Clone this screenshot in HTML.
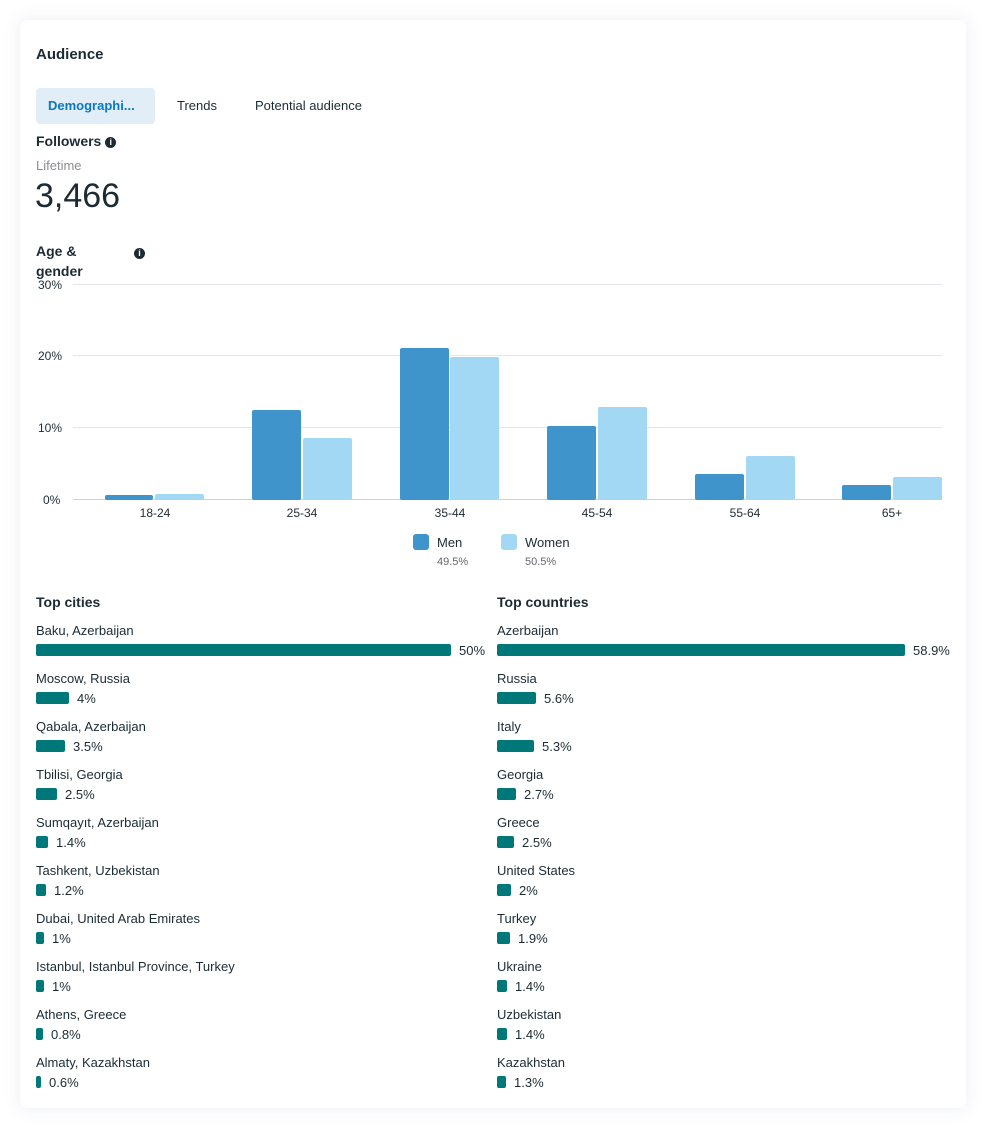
<!DOCTYPE html>
<html><head><meta charset="utf-8"><style>
body{margin:0;width:1004px;height:1147px;background:#fff;font-family:"Liberation Sans",sans-serif;color:#1c2b33;position:relative;overflow:hidden}
.card{position:absolute;left:20px;top:20px;width:946px;height:1088px;background:#fff;border-radius:8px;box-shadow:0 0 14px 4px rgba(120,130,180,0.09)}
.a{position:absolute;white-space:nowrap}
.t{font-size:13px}
.b{position:absolute;height:12px;background:#00787a;border-radius:2px}
.i{display:inline-block;width:11px;height:11px;border-radius:50%;background:#1c2b33;color:#fff;font-size:9px;font-weight:bold;text-align:center;line-height:11px;vertical-align:1px}
</style></head><body>
<div class="card"></div>
<div class="a" style="left:36px;top:46px;font-size:15px;font-weight:bold">Audience</div>
<div class="a" style="left:36px;top:88px;width:119px;height:36px;background:#e1edf7;border-radius:4px"></div>
<div class="a" style="left:48px;top:98px;font-size:13px;font-weight:bold;color:#0a78be">Demographi...</div>
<div class="a t" style="left:177px;top:98px">Trends</div>
<div class="a t" style="left:255px;top:98px">Potential audience</div>
<div class="a" style="left:36px;top:133px;font-size:14px;font-weight:bold">Followers <span class="i">i</span></div>
<div class="a t" style="left:36px;top:158px;color:#8a8d91">Lifetime</div>
<div class="a" style="left:35px;top:177px;font-size:34px">3,466</div>
<div class="a" style="left:36px;top:241px;font-size:14px;font-weight:bold;line-height:20px">Age &amp;<br>gender</div>
<div class="a" style="left:134px;top:244px"><span class="i">i</span></div>
<svg class="a" style="left:0;top:0" width="1004" height="580">
<g stroke="#e4e6eb" stroke-width="1">
<line x1="73" y1="284.5" x2="942" y2="284.5"/><line x1="73" y1="355.5" x2="942" y2="355.5"/><line x1="73" y1="427.5" x2="942" y2="427.5"/><line x1="73" y1="499.5" x2="942" y2="499.5" stroke="#ccd0d5"/>
</g>
<g font-size="12" fill="#1c2b33" font-family="Liberation Sans">
<text x="38" y="289">30%</text><text x="38" y="360">20%</text><text x="38" y="432">10%</text><text x="43" y="504">0%</text>
<g text-anchor="middle" font-size="12"><text x="155" y="517">18-24</text><text x="302" y="517">25-34</text><text x="450" y="517">35-44</text><text x="597" y="517">45-54</text><text x="745" y="517">55-64</text><text x="892" y="517">65+</text></g>
</g>
<g fill="#3f94cc">
<rect x="105" y="495" width="48" height="5" rx="2"/>
<rect x="252" y="410" width="49" height="90" rx="2"/>
<rect x="400" y="348" width="49" height="152" rx="2"/>
<rect x="547" y="426" width="49" height="74" rx="2"/>
<rect x="695" y="474" width="49" height="26" rx="2"/>
<rect x="842" y="485" width="49" height="15" rx="2"/>
</g>
<g fill="#a3d8f5">
<rect x="155" y="494" width="49" height="6" rx="2"/>
<rect x="303" y="438" width="49" height="62" rx="2"/>
<rect x="450" y="357" width="49" height="143" rx="2"/>
<rect x="598" y="407" width="49" height="93" rx="2"/>
<rect x="746" y="456" width="49" height="44" rx="2"/>
<rect x="893" y="477" width="49" height="23" rx="2"/>
</g>
<rect x="413" y="534" width="16" height="16" rx="3" fill="#3f94cc"/>
<rect x="501" y="534" width="16" height="16" rx="3" fill="#a3d8f5"/>
<g font-family="Liberation Sans"><text x="437" y="547" font-size="13" fill="#1c2b33">Men</text><text x="437" y="565" font-size="11" fill="#65676b">49.5%</text>
<text x="525" y="547" font-size="13" fill="#1c2b33">Women</text><text x="525" y="565" font-size="11" fill="#65676b">50.5%</text></g>
</svg>
<div class="a" style="left:36px;top:594px;font-size:14px;font-weight:bold">Top cities</div>
<div class="a" style="left:497px;top:594px;font-size:14px;font-weight:bold">Top countries</div>

<div class="a t" style="left:36px;top:623px">Baku, Azerbaijan</div><div class="b" style="left:36px;top:644px;width:415px"></div><div class="a t" style="left:459px;top:643px">50%</div>
<div class="a t" style="left:36px;top:671px">Moscow, Russia</div><div class="b" style="left:36px;top:692px;width:33px"></div><div class="a t" style="left:77px;top:691px">4%</div>
<div class="a t" style="left:36px;top:719px">Qabala, Azerbaijan</div><div class="b" style="left:36px;top:740px;width:29px"></div><div class="a t" style="left:73px;top:739px">3.5%</div>
<div class="a t" style="left:36px;top:767px">Tbilisi, Georgia</div><div class="b" style="left:36px;top:788px;width:21px"></div><div class="a t" style="left:65px;top:787px">2.5%</div>
<div class="a t" style="left:36px;top:815px">Sumqayıt, Azerbaijan</div><div class="b" style="left:36px;top:836px;width:12px"></div><div class="a t" style="left:56px;top:835px">1.4%</div>
<div class="a t" style="left:36px;top:863px">Tashkent, Uzbekistan</div><div class="b" style="left:36px;top:884px;width:10px"></div><div class="a t" style="left:54px;top:883px">1.2%</div>
<div class="a t" style="left:36px;top:911px">Dubai, United Arab Emirates</div><div class="b" style="left:36px;top:932px;width:8px"></div><div class="a t" style="left:52px;top:931px">1%</div>
<div class="a t" style="left:36px;top:959px">Istanbul, Istanbul Province, Turkey</div><div class="b" style="left:36px;top:980px;width:8px"></div><div class="a t" style="left:52px;top:979px">1%</div>
<div class="a t" style="left:36px;top:1007px">Athens, Greece</div><div class="b" style="left:36px;top:1028px;width:7px"></div><div class="a t" style="left:51px;top:1027px">0.8%</div>
<div class="a t" style="left:36px;top:1055px">Almaty, Kazakhstan</div><div class="b" style="left:36px;top:1076px;width:5px"></div><div class="a t" style="left:49px;top:1075px">0.6%</div>

<div class="a t" style="left:497px;top:623px">Azerbaijan</div><div class="b" style="left:497px;top:644px;width:408px"></div><div class="a t" style="left:913px;top:643px">58.9%</div>
<div class="a t" style="left:497px;top:671px">Russia</div><div class="b" style="left:497px;top:692px;width:39px"></div><div class="a t" style="left:544px;top:691px">5.6%</div>
<div class="a t" style="left:497px;top:719px">Italy</div><div class="b" style="left:497px;top:740px;width:37px"></div><div class="a t" style="left:542px;top:739px">5.3%</div>
<div class="a t" style="left:497px;top:767px">Georgia</div><div class="b" style="left:497px;top:788px;width:19px"></div><div class="a t" style="left:524px;top:787px">2.7%</div>
<div class="a t" style="left:497px;top:815px">Greece</div><div class="b" style="left:497px;top:836px;width:17px"></div><div class="a t" style="left:522px;top:835px">2.5%</div>
<div class="a t" style="left:497px;top:863px">United States</div><div class="b" style="left:497px;top:884px;width:14px"></div><div class="a t" style="left:519px;top:883px">2%</div>
<div class="a t" style="left:497px;top:911px">Turkey</div><div class="b" style="left:497px;top:932px;width:13px"></div><div class="a t" style="left:518px;top:931px">1.9%</div>
<div class="a t" style="left:497px;top:959px">Ukraine</div><div class="b" style="left:497px;top:980px;width:10px"></div><div class="a t" style="left:515px;top:979px">1.4%</div>
<div class="a t" style="left:497px;top:1007px">Uzbekistan</div><div class="b" style="left:497px;top:1028px;width:10px"></div><div class="a t" style="left:515px;top:1027px">1.4%</div>
<div class="a t" style="left:497px;top:1055px">Kazakhstan</div><div class="b" style="left:497px;top:1076px;width:9px"></div><div class="a t" style="left:514px;top:1075px">1.3%</div>
</body></html>
